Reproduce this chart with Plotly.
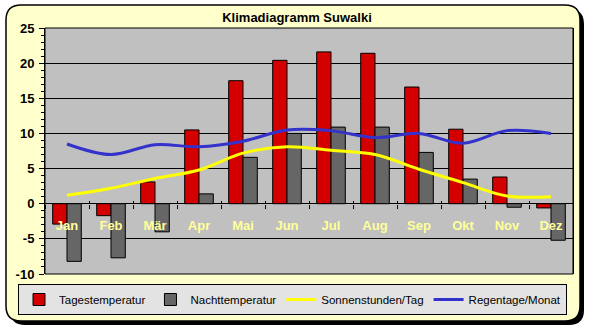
import plotly.graph_objects as go

months = ["Jan", "Feb", "Mär", "Apr", "Mai", "Jun", "Jul", "Aug", "Sep", "Okt", "Nov", "Dez"]
tages = [-2.9, -1.7, 3.1, 10.5, 17.5, 20.4, 21.6, 21.4, 16.6, 10.6, 3.8, -0.6]
nacht = [-8.2, -7.7, -4.0, 1.4, 6.6, 10.0, 10.9, 10.9, 7.3, 3.5, -0.5, -5.2]
sonne = [1.2, 2.2, 3.6, 4.8, 7.2, 8.1, 7.6, 7.0, 4.9, 3.0, 1.1, 1.0]
regen = [8.5, 7.0, 8.4, 8.1, 8.9, 10.5, 10.4, 9.4, 10.0, 8.6, 10.4, 10.0]
y_ticks = [-10, -5, 0, 5, 10, 15, 20, 25]
y_ticktext = ["-10", "-5", "0", "5", "10", "15", "20", "25"]
y_range = [-10, 25]

W, H = 589, 330
ML, MR, MT, MB = 45, 16, 28, 56
PW, PH = W - ML - MR, H - MT - MB

def px(x):
    return (x - ML) / PW

def py(y):
    return (H - MB - y) / PH

def rounded(x0, y0, x1, y1, r):
    pts = [
        f"M{px(x0 + r)},{py(y0)}",
        f"L{px(x1 - r)},{py(y0)}",
        f"Q{px(x1)},{py(y0)} {px(x1)},{py(y0 + r)}",
        f"L{px(x1)},{py(y1 - r)}",
        f"Q{px(x1)},{py(y1)} {px(x1 - r)},{py(y1)}",
        f"L{px(x0 + r)},{py(y1)}",
        f"Q{px(x0)},{py(y1)} {px(x0)},{py(y1 - r)}",
        f"L{px(x0)},{py(y0 + r)}",
        f"Q{px(x0)},{py(y0)} {px(x0 + r)},{py(y0)}",
        "Z",
    ]
    return " ".join(pts)

FONT = "Liberation Sans"

fig = go.Figure()
fig.add_trace(go.Bar(x=months, y=tages, name="Tagestemperatur",
                     marker=dict(color="#D40000", line=dict(color="black", width=1))))
fig.add_trace(go.Bar(x=months, y=nacht, name="Nachttemperatur",
                     marker=dict(color="#666666", line=dict(color="black", width=1))))
fig.add_trace(go.Scatter(x=months, y=sonne, name="Sonnenstunden/Tag", mode="lines",
                         line=dict(color="#FFFF00", width=3, shape="spline")))
fig.add_trace(go.Scatter(x=months, y=regen, name="Regentage/Monat", mode="lines",
                         line=dict(color="#3333CC", width=3, shape="spline")))
fig.add_trace(go.Scatter(x=months, y=[None] * len(months), xaxis="x2", showlegend=False,
                         hoverinfo="skip", mode="lines"))

zero_pos = (0 - y_range[0]) / (y_range[1] - y_range[0])

shapes = [
    dict(type="path", xref="paper", yref="paper", layer="below",
         path=rounded(10, 9, 584, 325, 15), fillcolor="black", line=dict(width=0)),
    dict(type="path", xref="paper", yref="paper", layer="below",
         path=rounded(6, 5, 580, 321, 15), fillcolor="#FFFFCC",
         line=dict(color="black", width=1.5)),
    dict(type="rect", xref="paper", yref="paper", x0=0, x1=1, y0=0, y1=1,
         fillcolor="#C0C0C0", line=dict(width=0), layer="below"),
    dict(type="rect", xref="x domain", yref="y domain", x0=0, x1=1, y0=0, y1=1,
         line=dict(color="black", width=1), layer="above"),
]

fig.update_layout(
    width=W, height=H,
    margin=dict(l=ML, r=MR, t=MT, b=MB),
    paper_bgcolor="white",
    plot_bgcolor="rgba(0,0,0,0)",
    barmode="group", bargap=0.35, bargroupgap=0,
    title=dict(text="<b>Klimadiagramm Suwalki</b>", x=297 / W, xanchor="center",
               y=1 - 17 / H, yanchor="middle", font=dict(family=FONT, size=13, color="black")),
    xaxis=dict(type="category", categoryarray=months, range=[-0.5, 11.5],
               anchor="free", position=zero_pos, showgrid=False, showline=False,
               ticks="outside", ticklen=4, tickcolor="black", tickson="boundaries",
               tickfont=dict(family=FONT, size=13, color="#FFFF99", weight="bold"),
               ticklabelstandoff=12, zeroline=False),
    xaxis2=dict(type="category", categoryarray=months, range=[-0.5, 11.5],
                overlaying="x", anchor="free", position=zero_pos, showgrid=False,
                showline=False, ticks="inside", ticklen=3, tickcolor="black",
                tickson="boundaries", showticklabels=False, zeroline=False),
    yaxis=dict(range=y_range, tickmode="array", tickvals=y_ticks, ticktext=y_ticktext,
               showgrid=True, gridcolor="black", gridwidth=1,
               zeroline=True, zerolinecolor="black", zerolinewidth=1,
               showline=True, linecolor="black", linewidth=1, mirror=True,
               ticks="outside", ticklen=5, tickcolor="black",
               minor=dict(dtick=1, ticks="outside", ticklen=3, tickcolor="black", showgrid=False),
               tickfont=dict(family=FONT, size=13, color="black", weight="bold"),
               ticklabelstandoff=2),
    legend=dict(orientation="h", x=px(18), y=py(284), xanchor="left", yanchor="top",
                bgcolor="#E3E3E3", bordercolor="black", borderwidth=1,
                font=dict(family=FONT, size=11.5, color="black"),
                itemwidth=30, tracegroupgap=0),
    shapes=shapes,
    showlegend=True,
)

fig.write_html("out.html")
